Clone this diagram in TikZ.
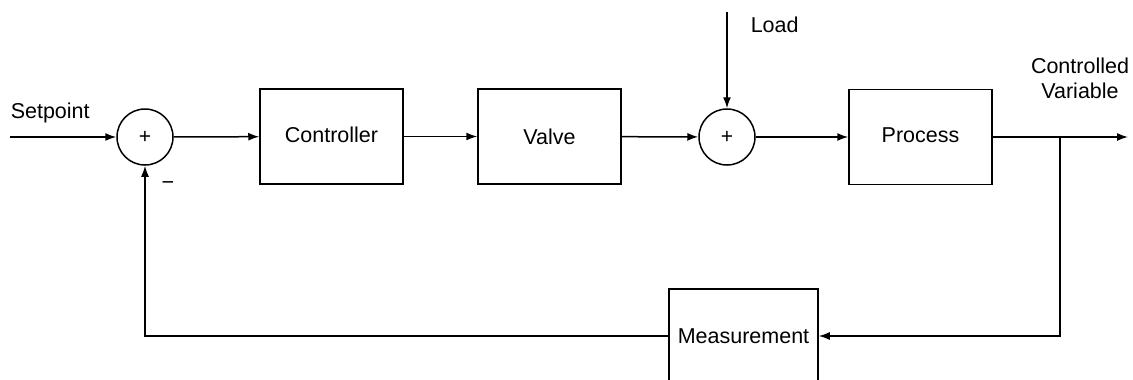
\documentclass[tikz,border=0pt]{standalone}
\usepackage{fontspec}
\setmainfont{Liberation Sans}
\usetikzlibrary{arrows.meta}
\begin{document}
\begin{tikzpicture}[x=1pt,y=-1pt,
  line width=1.5pt,
  font=\fontsize{21.5}{25}\selectfont,
  blockbox/.style={draw,rectangle,minimum width=143pt,minimum height=95pt,inner sep=0pt},
  sumnode/.style={draw,circle,minimum size=56pt,inner sep=0pt,font=\fontsize{21}{22}\selectfont},
  lbl/.style={inner sep=0pt},
  flow/.style={-{Latex[length=11pt,width=8pt]}}]
\useasboundingbox (0,0) rectangle (1133,380);
\node[sumnode] (s1) at (145,137) {+};
\node[blockbox] (ctrl) at (331.5,136.5) {\raisebox{3pt}{Controller}};
\node[blockbox] (valve) at (549.5,136.5) {Valve};
\node[sumnode] (s2) at (727,137) {+};
\node[blockbox] (proc) at (920.5,137) {\raisebox{3pt}{Process}};
\node[blockbox,minimum width=149pt,minimum height=94pt] (meas) at (743.5,336) {Measurement};
\coordinate (sp) at (10,137);
\coordinate (ld) at (727,12);
\coordinate (out) at (1128,137);
\coordinate (br) at (1060,137);
\node[lbl,anchor=base west] (sptxt) at (10,118) {Setpoint};
\node[lbl,anchor=base west] (ldtxt) at (750,32) {Load};
\node[lbl,align=center,anchor=base] (cvtxt) at (1080,98) {Controlled\\Variable};
\node[lbl] (minus) at (168,186) {\textminus};
\draw[flow] (sp) -- (s1);
\draw[flow] (s1) -- (ctrl);
\draw[flow] (ctrl) -- (valve);
\draw[flow] (valve) -- (s2);
\draw[flow] (ld) -- (s2);
\draw[flow] (s2) -- (proc);
\draw[flow] (proc) -- (out);
\draw[flow] (br) |- (meas.east);
\draw[flow] (meas.west) -| (s1.south);
\end{tikzpicture}
\end{document}
